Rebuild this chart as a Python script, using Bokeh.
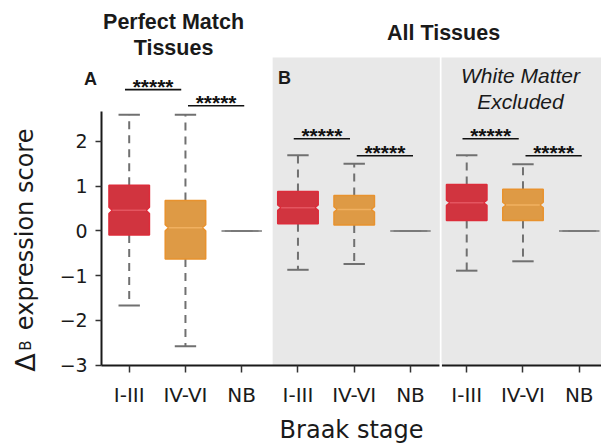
from math import pi
from bokeh.plotting import figure
from bokeh.models import Range1d, FixedTicker, Label, BoxAnnotation
from bokeh.embed import file_html
from bokeh.resources import INLINE
from bokeh.core.properties import value

# ---------------- data ----------------
panel_titles = ["Perfect Match Tissues", "All Tissues", "White Matter Excluded"]
stages = ["I-III", "IV-VI", "NB"]
tick_labels = stages * 3

# box statistics, order: A(I-III, IV-VI, NB), B(...), C(...)
whisker_hi = [2.60, 2.60, 0.0, 1.69, 1.50, 0.0, 1.69, 1.49, 0.0]
q3 = [1.02, 0.68, 0.0, 0.88, 0.79, 0.0, 1.04, 0.93, 0.0]
median = [0.46, 0.07, 0.0, 0.52, 0.48, 0.0, 0.63, 0.58, 0.0]
q1 = [-0.09, -0.63, 0.0, 0.16, 0.13, 0.0, 0.23, 0.23, 0.0]
whisker_lo = [-1.67, -2.58, 0.0, -0.87, -0.74, 0.0, -0.89, -0.68, 0.0]
notch_ci = [0.07, 0.07, 0.0, 0.06, 0.06, 0.0, 0.06, 0.06, 0.0]

# significance brackets (box index pairs) and their heights
sig_from = [0, 1, 3, 4, 6, 7]
sig_to = [1, 2, 4, 5, 7, 8]
sig_level = [3.16, 2.80, 2.06, 1.68, 2.06, 1.68]
sig_text = ["*****"] * 6

y_ticks = [-3, -2, -1, 0, 1, 2]

# ---------------- style ----------------
fills = ["#d1343f", "#de9a45", "#808080"] * 3
edges = ["#dc2c3a", "#e8922e", "#7a7a7a"] * 3
med_cols = ["#e45560", "#f0b060", "#7a7a7a"] * 3
whisk_col = "#707070"
HW = 0.36     # half box width
HWN = 0.30    # half width at notch
CAP = 0.19    # half cap width
X0, Y0 = -0.49, -3.0   # where the axes sit
TOP = 3.88
PANEL_GRAY = "#e8e8e8"

n = len(q3)
pos = list(range(n))

box_xs, box_ys = [], []
for i in pos:
    lo_n, hi_n = median[i] - notch_ci[i], median[i] + notch_ci[i]
    box_xs.append([i - HW, i + HW, i + HW, i + HWN, i + HW, i + HW, i - HW, i - HW, i - HWN, i - HW])
    box_ys.append([q1[i], q1[i], lo_n, median[i], hi_n, q3[i], q3[i], hi_n, median[i], lo_n])

p = figure(width=601, height=443, output_backend="svg", toolbar_location=None,
           x_range=Range1d(-2.288, 8.396), y_range=Range1d(-4.756, 5.154),
           min_border_left=0, min_border_right=0, min_border_top=0, min_border_bottom=0)
p.outline_line_color = None
p.xgrid.visible = False
p.ygrid.visible = False
p.background_fill_color = "white"
p.border_fill_color = "white"

# gray panels
p.add_layout(BoxAnnotation(left=2.55, right=5.522, bottom=Y0, top=TOP, fill_color=PANEL_GRAY,
                           fill_alpha=1, line_color=None, level="underlay"))
p.add_layout(BoxAnnotation(left=5.552, right=9.5, bottom=Y0, top=TOP, fill_color=PANEL_GRAY,
                           fill_alpha=1, line_color=None, level="underlay"))

# whiskers
p.segment(x0=pos, y0=q3, x1=pos, y1=whisker_hi, line_color=whisk_col, line_width=2, line_dash="8 6")
p.segment(x0=pos, y0=q1, x1=pos, y1=whisker_lo, line_color=whisk_col, line_width=2, line_dash="8 6")
p.segment(x0=[i - CAP for i in pos], y0=whisker_hi, x1=[i + CAP for i in pos], y1=whisker_hi,
          line_color=whisk_col, line_width=2)
p.segment(x0=[i - CAP for i in pos], y0=whisker_lo, x1=[i + CAP for i in pos], y1=whisker_lo,
          line_color=whisk_col, line_width=2)

# boxes
p.patches(xs=box_xs, ys=box_ys, fill_color=fills, line_color=edges, line_width=1.5, fill_alpha=1)
p.segment(x0=[i - HWN for i in pos], y0=median, x1=[i + HWN for i in pos], y1=median,
          line_color=med_cols, line_width=1.5)

# significance brackets
sl = []
sr = []
for k in range(len(sig_from)):
    shift = -0.075 if k % 2 == 0 else 0.045
    sl.append(sig_from[k] + shift)
    sr.append(sig_to[k] + shift)
p.segment(x0=sl, y0=sig_level, x1=sr, y1=sig_level, line_color="#111111", line_width=1.6)
p.text(x=[(a + b) / 2 for a, b in zip(sl, sr)], y=sig_level, text=sig_text,
       text_font=value("Liberation Sans"), text_font_style="bold", text_font_size="21px",
       text_align="center", text_baseline="alphabetic", y_offset=-3, text_color="#111111")

# axes (placed at fixed data locations)
xa = p.xaxis[0]
xa.fixed_location = Y0
xa.bounds = (X0, 8.5)
xa.ticker = FixedTicker(ticks=pos)
xa.major_label_overrides = {i: tick_labels[i] for i in pos}
xa.major_label_text_font = "DejaVu Sans"
xa.major_label_text_font_size = "20px"
xa.major_label_text_color = "#1a1a1a"
xa.major_label_standoff = 11
xa.axis_line_width = 2
xa.axis_line_color = "#1a1a1a"
xa.major_tick_out = 7
xa.major_tick_in = 0
xa.major_tick_line_width = 1.5
xa.major_tick_line_color = "#333333"
xa.minor_tick_line_color = None

ya = p.yaxis[0]
ya.fixed_location = X0
ya.ticker = FixedTicker(ticks=y_ticks)
ya.major_label_overrides = {t: str(t).replace("-", "\u2212") for t in y_ticks}
ya.bounds = (Y0, 2.68)
ya.major_label_text_font = "DejaVu Sans"
ya.major_label_text_font_size = "19px"
ya.major_label_text_color = "#1a1a1a"
ya.major_label_standoff = 8
ya.axis_line_width = 2
ya.axis_line_color = "#1a1a1a"
ya.major_tick_out = 6
ya.major_tick_in = 0
ya.major_tick_line_width = 1.5
ya.major_tick_line_color = "#333333"
ya.minor_tick_line_color = None

# white gap between the two gray panels, cutting through the baseline
p.segment(x0=[5.537], y0=[Y0 - 0.05], x1=[5.537], y1=[Y0 + 0.05], line_color="white",
          line_width=2.5, level="overlay")


def lab(x, y, text, font="Liberation Sans", size="21.5px", style="bold", align="center", angle=0):
    p.add_layout(Label(x=x, y=y, text=text, text_font=font, text_font_size=size,
                       text_font_style=style, text_align=align, text_baseline="alphabetic",
                       text_color="#1a1a1a", angle=angle))


# titles
lab(0.788, 4.675, "Perfect Match")
lab(0.788, 4.095, "Tissues")
lab(5.588, 4.43, "All Tissues")
lab(-0.687, 3.408, "A", size="18px")
lab(2.761, 3.43, "B", size="18px")
lab(6.956, 3.482, "White Matter", style="italic", size="21px")
lab(6.956, 2.885, "Excluded", style="italic", size="21px")

# axis labels
lab(3.953, -4.445, "Braak stage", font="DejaVu Sans", size="24px", style="normal")
lab(-1.852, -3.15, "\u0394", font="DejaVu Sans", size="27px", style="normal", align="left", angle=pi / 2)
lab(-1.83, -2.68, "B", font="DejaVu Sans", size="15px", style="normal", align="left", angle=pi / 2)
lab(-1.852, -2.22, "expression score", font="DejaVu Sans", size="24px", style="normal",
    align="left", angle=pi / 2)

open("out.html", "w").write(file_html(p, INLINE))
